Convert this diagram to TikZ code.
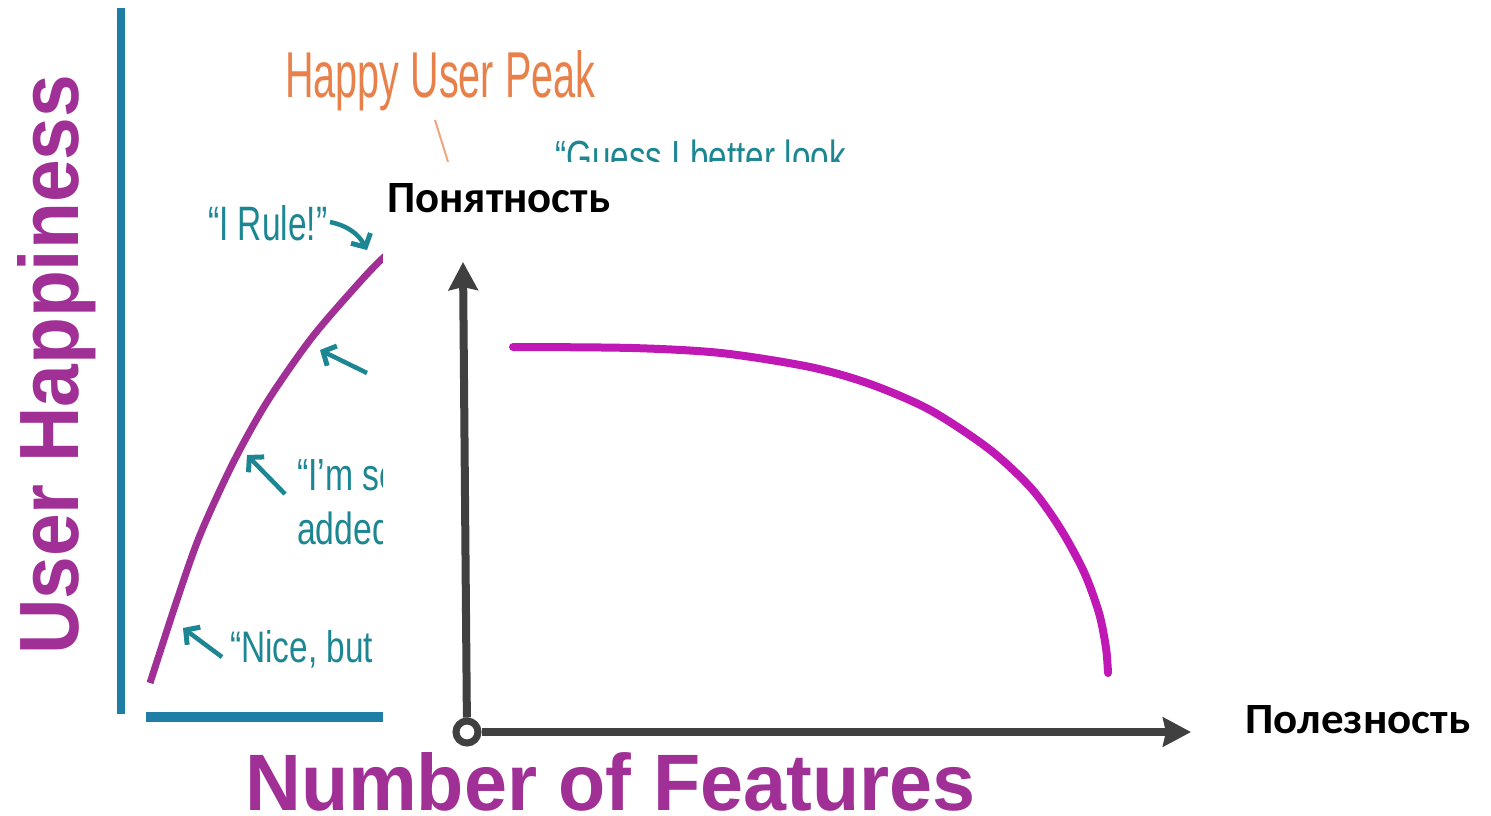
\documentclass[tikz,border=0pt]{standalone}
\usepackage{fontspec}
\setmainfont{Liberation Sans}
\newfontfamily\labelfont{Carlito}
\usepackage{graphicx}
\usetikzlibrary{arrows.meta}
\definecolor{happypurple}{RGB}{160,48,150}
\definecolor{axisblue}{RGB}{30,126,166}
\definecolor{quoteteal}{RGB}{28,134,146}
\definecolor{peakorange}{RGB}{232,128,74}
\definecolor{axisgray}{RGB}{64,64,64}
\definecolor{curvemagenta}{RGB}{192,24,180}
\tikzset{
  quote/.style={text=quoteteal, anchor=base west, inner sep=0pt,
    font=\fontsize{45}{50}\selectfont},
  quote arrow/.style={draw=quoteteal, line width=4.5pt,
    -{Straight Barb[length=10pt,width=22pt,line width=5pt]}}
}

\begin{document}
\begin{tikzpicture}[x=1pt, y=-1pt,
    old axis/.style={draw=axisblue, line width=8pt},
    new axis/.style={draw=axisgray, line width=8pt,
      -{Stealth[length=28pt,width=29pt,inset=3pt]}},
    origin node/.style={circle, draw=axisgray, fill=white, line width=7pt,
      minimum size=22pt, inner sep=0pt},
    axis label/.style={anchor=base west, inner sep=0pt, font=\labelfont\bfseries} ]
    \useasboundingbox (0,0) rectangle (1491,815);
    % the old featuritis chart
    \coordinate (uh top) at (121,8);
    \coordinate (uh bot) at (121,714);
    \draw [old axis] (uh bot) to (uh top);
    \coordinate (nf left) at (146,717);
    \coordinate (nf right) at (400,717);
    \draw [old axis, line width=10pt] (nf left) to (nf right);
    \node at (78,655) [anchor=base west, rotate=90, inner sep=0pt, text=happypurple, font=\bfseries] (uh) {\resizebox{580pt}{61pt}{User Happiness}};
    \node at (245,810) [anchor=base west, inner sep=0pt, text=happypurple, font=\bfseries] (nf) {\resizebox{730pt}{58pt}{Number of Features}};
    \draw [happypurple, line width=7pt] plot [smooth, tension=0.5] coordinates {(150,683) (177,600) (200,535) (233,463) (267,402) (310,340) (350,293) (383,258) (420,230)};
    \node at (285,97) [anchor=base west, inner sep=0pt, text=peakorange] (peak) {\resizebox{310pt}{47pt}{Happy User Peak}};
    \coordinate (tick top) at (435,120);
    \coordinate (tick bot) at (449,165);
    \draw [peakorange!70, line width=2pt] (tick top) to (tick bot);
    \node at (208,240) [quote] (rule) {\resizebox{119pt}{35pt}{“I Rule!”}};
    \node at (230,662) [quote] (nice) {\resizebox{143pt}{32pt}{“Nice, but}};
    \node at (297,490) [quote] (glad) {\scalebox{0.75}[1]{“I’m so}};
    \node at (297,544) [quote] (added) {\scalebox{0.75}[1]{added}};
    \node at (555,172) [quote] (guess) {\scalebox{0.74}[1]{“Guess I better look}};
    \coordinate (nice tail) at (222,657);
    \coordinate (nice head) at (183,628);
    \draw [quote arrow] (nice tail) to (nice head);
    \coordinate (glad tail) at (285,494);
    \coordinate (glad head) at (247,455);
    \draw [quote arrow] (glad tail) to (glad head);
    \coordinate (mid tail) at (367,373);
    \coordinate (mid head) at (320,350);
    \draw [quote arrow] (mid tail) to (mid head);
    \coordinate (rule tail) at (330,222);
    \coordinate (rule head) at (367,250);
    \draw [quote arrow] (rule tail) to [bend left=25] (rule head);
    % the new chart pasted on top
    \fill [white] (383,162) rectangle (1491,745);
    \node at (467,732) [origin node] (O) {};
    \coordinate (y tip) at (463,262);
    \coordinate (x tip) at (1191,732);
    \draw [new axis] (O) to (y tip);
    \draw [new axis] (O) to (x tip);
    \node at (387,212) [axis label] (ylab) {\resizebox{223pt}{29pt}{Понятность}};
    \node at (1245,733) [axis label] (xlab) {\resizebox{225pt}{28pt}{Полезность}};
    \draw [curvemagenta, line width=8pt, line cap=round] plot [smooth, tension=0.5] coordinates {(513,347) (632,348) (721,353) (810,367) (870,384) (930,410) (989,449) (1031,488) (1060,528) (1084,572) (1099,613) (1106,648) (1108,673)};
    \end{tikzpicture}
\end{document}
